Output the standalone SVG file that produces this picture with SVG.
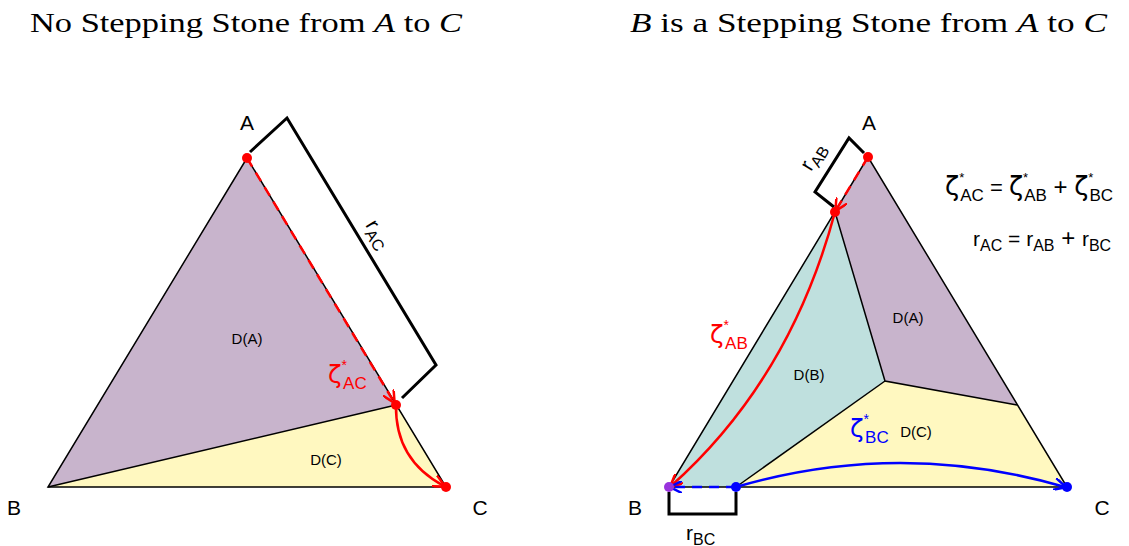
<svg xmlns="http://www.w3.org/2000/svg" width="1129" height="546" viewBox="0 0 1129 546">
<defs>
<style>
.t{font-family:"Liberation Serif","DejaVu Serif",serif;font-size:27px;fill:#000}
.l{font-family:"Liberation Sans",Arial,sans-serif}
.z{font-family:"DejaVu Sans",sans-serif}
.edge{stroke:#000;stroke-width:1.5;fill:none}
.br{stroke:#000;stroke-width:3;fill:none;stroke-linejoin:miter}
.red{stroke:#ff0000;stroke-width:2.5;fill:none}
.blue{stroke:#0000ff;stroke-width:2.5;fill:none}
.dash{stroke-dasharray:10,7}
</style>
<marker id="ar" viewBox="0 0 10 10" refX="9" refY="5" markerWidth="5" markerHeight="5" orient="auto"><path d="M0,0 L10,5 L0,10" fill="none" stroke="#ff0000" stroke-width="2"/></marker>
<marker id="ab" viewBox="0 0 10 10" refX="9" refY="5" markerWidth="5" markerHeight="5" orient="auto"><path d="M0,0 L10,5 L0,10" fill="none" stroke="#0000ff" stroke-width="2"/></marker>
</defs>
<rect width="1129" height="546" fill="#fff"/>
<text class="t" x="30" y="32" textLength="432" lengthAdjust="spacingAndGlyphs">No Stepping Stone from <tspan font-style="italic">A</tspan> to <tspan font-style="italic">C</tspan></text>
<text class="t" x="630" y="32" textLength="477" lengthAdjust="spacingAndGlyphs"><tspan font-style="italic">B</tspan> is a Stepping Stone from <tspan font-style="italic">A</tspan> to <tspan font-style="italic">C</tspan></text>

<g id="left-DA"><polygon points="247,158 48,487 396,405" fill="#c8b4cc"/><text class="l" x="247" y="344" font-size="15" text-anchor="middle">D(A)</text></g>
<g id="left-DC"><polygon points="48,487 396,405 446,487" fill="#fff8c0"/><text class="l" x="326" y="465" font-size="15" text-anchor="middle">D(C)</text></g>
<g id="left-edges"><polygon points="247,158 48,487 446,487" class="edge"/><line x1="48" y1="487" x2="396" y2="405" class="edge"/></g>

<g id="right-DA"><polygon points="868,157 835,212 885,381 1017,405" fill="#c8b4cc"/><text class="l" x="908" y="323" font-size="15" text-anchor="middle">D(A)</text></g>
<g id="right-DB"><polygon points="669,487 835,212 885,381 736,487" fill="#bfe0de"/><text class="l" x="809" y="380" font-size="15" text-anchor="middle">D(B)</text></g>
<g id="right-DC"><polygon points="736,487 885,381 1017,405 1067,487" fill="#fff8c0"/><text class="l" x="916" y="437" font-size="15" text-anchor="middle">D(C)</text></g>
<g id="right-edges"><polygon points="868,157 669,487 1067,487" class="edge"/><polyline points="835,212 885,381 1017,405" class="edge"/><line x1="885" y1="381" x2="736" y2="487" class="edge"/></g>

<g id="connectors">
<line x1="247" y1="158" x2="394" y2="402" class="red dash" marker-end="url(#ar)"/>
<path d="M396,405 Q395,460 444,486" class="red" marker-end="url(#ar)"/>
<line x1="868" y1="157" x2="836" y2="210" class="red dash" marker-end="url(#ar)"/>
<path d="M835,212 Q790,380 671,486" class="red" marker-end="url(#ar)"/>
<line x1="736" y1="487" x2="671" y2="487" class="blue dash" marker-end="url(#ab)"/>
<path d="M736,487 Q900,439 1065,487" class="blue" marker-end="url(#ab)"/>
<polyline points="250,152 287,118 436,365 402,398" class="br"/>
<polyline points="864,153 849,138 815,192 834,207" class="br"/>
<polyline points="669,492 669,514 736,514 736,492" class="br"/>
</g>

<g id="dots">
<circle cx="247" cy="158" r="5" fill="#ff0000"/>
<circle cx="396" cy="405" r="5" fill="#ff0000"/>
<circle cx="446" cy="487" r="5" fill="#ff0000"/>
<circle cx="868" cy="157" r="5" fill="#ff0000"/>
<circle cx="835" cy="212" r="5" fill="#ff0000"/>
<circle cx="669" cy="487" r="5" fill="#9933dd"/>
<circle cx="736" cy="487" r="5" fill="#0000ff"/>
<circle cx="1067" cy="487" r="5" fill="#0000ff"/>
</g>

<g id="labels">
<text class="l" x="247" y="130" font-size="21" text-anchor="middle">A</text>
<text class="l" x="14" y="515" font-size="21" text-anchor="middle">B</text>
<text class="l" x="480" y="515" font-size="21" text-anchor="middle">C</text>
<text class="l" x="869" y="130" font-size="21" text-anchor="middle">A</text>
<text class="l" x="635" y="515" font-size="21" text-anchor="middle">B</text>
<text class="l" x="1102" y="515" font-size="21" text-anchor="middle">C</text>
<text class="l" font-size="21" transform="translate(365,225) rotate(58.8)">r<tspan font-size="16" dy="5">AC</tspan></text>
<text class="l" font-size="21" transform="translate(811,172) rotate(-58.8)">r<tspan font-size="16" dy="5">AB</tspan></text>
<text class="l" x="686" y="540" font-size="21">r<tspan font-size="16" dy="5">BC</tspan></text>
<text class="l" x="328" y="383" font-size="25" style="fill:#ff0000"><tspan class="z">ζ</tspan><tspan font-size="14" dy="-13">*</tspan><tspan font-size="17" dx="-4" dy="19">AC</tspan></text>
<text class="l" x="710" y="343" font-size="25" style="fill:#ff0000"><tspan class="z">ζ</tspan><tspan font-size="14" dy="-13">*</tspan><tspan font-size="17" dx="-4" dy="19">AB</tspan></text>
<text class="l" x="850" y="437" font-size="25" style="fill:#0000ff"><tspan class="z">ζ</tspan><tspan font-size="14" dy="-13">*</tspan><tspan font-size="17" dx="-4" dy="19">BC</tspan></text>
<text class="l" x="945" y="195" font-size="26"><tspan class="z">ζ</tspan><tspan font-size="13" dy="-13">*</tspan><tspan font-size="17" dx="-4" dy="19">AC</tspan><tspan font-size="22" dy="-6"> = </tspan><tspan class="z">ζ</tspan><tspan font-size="13" dy="-13">*</tspan><tspan font-size="17" dx="-4" dy="19">AB</tspan><tspan font-size="24" dy="-6"> + </tspan><tspan class="z">ζ</tspan><tspan font-size="13" dy="-13">*</tspan><tspan font-size="17" dx="-4" dy="19">BC</tspan></text>
<text class="l" x="973" y="246" font-size="21">r<tspan font-size="16" dy="5">AC</tspan><tspan dy="-5"> = r</tspan><tspan font-size="16" dy="5">AB</tspan><tspan dy="-5" font-size="24"> + </tspan><tspan>r</tspan><tspan font-size="16" dy="5">BC</tspan></text>
</g>
</svg>
